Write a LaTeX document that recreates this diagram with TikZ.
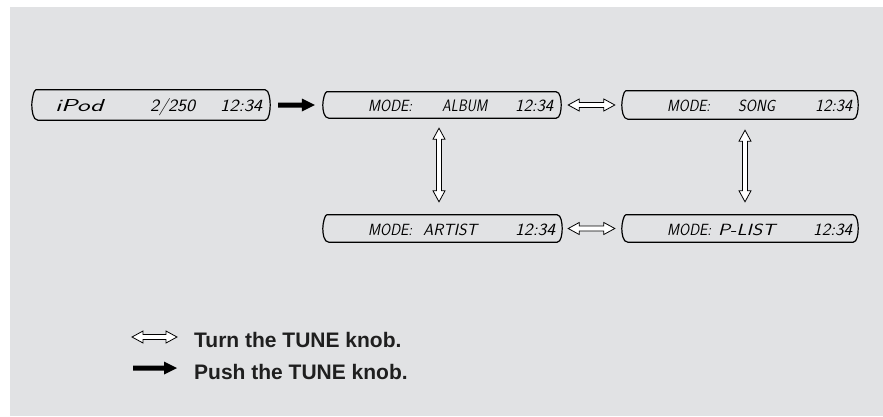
\documentclass[tikz,border=0pt]{standalone}
\usepackage{fontspec}
\usepackage{graphicx}
\newfontfamily\legendfont{Liberation Sans}
\usetikzlibrary{calc}
\definecolor{bgc}{RGB}{225,226,228}
\newcommand\lcdfont{\sffamily\slshape\fontsize{16}{16}\selectfont}
\newcommand\lcdtxt[3]{\resizebox{#1pt}{#2pt}{\lcdfont #3}}
\newcommand\lcdframe[1]{%
  \draw[lcdline] ([xshift=4pt]#1.north west) -- ([xshift=-5pt]#1.north east)
    .. controls ([xshift=-1pt]#1.north east) and ([yshift=5pt]#1.east) .. (#1.east)
    .. controls ([yshift=-5pt]#1.east) and ([xshift=-1pt]#1.south east) .. ([xshift=-5pt]#1.south east)
    -- ([xshift=6pt]#1.south west)
    .. controls ([xshift=1pt]#1.south west) and ([yshift=-5pt]#1.west) .. (#1.west)
    .. controls ([yshift=5pt]#1.west) and ([xshift=2pt]#1.north west) .. cycle;}
\newcommand\hollowH[2]{%
  \draw[hollow] let \p1=(#1), \p2=(#2) in
    (\x1,\y1) -- ({\x1+11pt},{\y1+6pt}) -- ({\x1+11pt},{\y1+2.5pt})
    -- ({\x2-11pt},{\y1+2.5pt}) -- ({\x2-11pt},{\y1+6pt}) -- (\x2,\y1)
    -- ({\x2-11pt},{\y1-6pt}) -- ({\x2-11pt},{\y1-2.5pt})
    -- ({\x1+11pt},{\y1-2.5pt}) -- ({\x1+11pt},{\y1-6pt}) -- cycle;}
\newcommand\hollowV[2]{%
  \draw[hollow] let \p1=(#1), \p2=(#2) in
    (\x1,\y1) -- ({\x1+6pt},{\y1-11pt}) -- ({\x1+2.5pt},{\y1-11pt})
    -- ({\x1+2.5pt},{\y2+11pt}) -- ({\x1+6pt},{\y2+11pt}) -- (\x1,\y2)
    -- ({\x1-6pt},{\y2+11pt}) -- ({\x1-2.5pt},{\y2+11pt})
    -- ({\x1-2.5pt},{\y1-11pt}) -- ({\x1-6pt},{\y1-11pt}) -- cycle;}
\newcommand\solidH[2]{%
  \fill[black] let \p1=(#1), \p2=(#2) in
    (\x1,{\y1+2.5pt}) -- ({\x2-13pt},{\y1+2.5pt}) -- ({\x2-13pt},{\y1+6.5pt})
    -- (\x2,\y1) -- ({\x2-13pt},{\y1-6.5pt}) -- ({\x2-13pt},{\y1-2.5pt})
    -- (\x1,{\y1-2.5pt}) -- cycle;}
\tikzset{
  lcdbox/.style={inner sep=0pt, draw=none},
  lcdline/.style={draw=black, line width=1.2pt, line join=round},
  lcdtext/.style={anchor=base west, inner sep=0pt},
  hollow/.style={draw=black, fill=white, line width=0.8pt, line join=miter},
  legendtext/.style={anchor=base west, inner sep=0pt, font=\legendfont\bfseries\fontsize{21}{24}\selectfont, text=black!88}
}
\begin{document}
\begin{tikzpicture}[x=1pt,y=1pt]
\useasboundingbox (0,0) rectangle (883,416);
\fill[bgc] (10,0) rectangle (883,409);
% display boxes
\node[lcdbox, minimum width=238pt, minimum height=30pt] (d1) at (151,311) {};
\node[lcdbox, minimum width=238pt, minimum height=26pt] (d2) at (442,311) {};
\node[lcdbox, minimum width=236pt, minimum height=28pt] (d3) at (740,311) {};
\node[lcdbox, minimum width=239pt, minimum height=27pt] (d4) at (442.5,187.5) {};
\node[lcdbox, minimum width=236pt, minimum height=27pt] (d5) at (740,187.5) {};
\lcdframe{d1}
\lcdframe{d2}
\lcdframe{d3}
\lcdframe{d4}
\lcdframe{d5}
% display texts
\node[lcdtext] (t1a) at (55,305) {\lcdtxt{48}{12}{iPod}};
\node[lcdtext] (t1b) at (150,305) {\lcdtxt{45}{13}{2/250}};
\node[lcdtext] (t1c) at (220,305) {\lcdtxt{42}{11.5}{12:34}};
\node[lcdtext] (t2a) at (368,305) {\lcdtxt{44}{11.5}{MODE:}};
\node[lcdtext] (t2b) at (442,305) {\lcdtxt{45}{11.5}{ALBUM}};
\node[lcdtext] (t2c) at (515,305) {\lcdtxt{38}{11.5}{12:34}};
\node[lcdtext] (t3a) at (667,305) {\lcdtxt{43}{11.5}{MODE:}};
\node[lcdtext] (t3b) at (738,305) {\lcdtxt{37}{11.5}{SONG}};
\node[lcdtext] (t3c) at (815,305) {\lcdtxt{37}{11.5}{12:34}};
\node[lcdtext] (t4a) at (368,181) {\lcdtxt{44}{11.5}{MODE:}};
\node[lcdtext] (t4b) at (423,181) {\lcdtxt{54}{11.5}{ARTIST}};
\node[lcdtext] (t4c) at (515,181) {\lcdtxt{40}{11.5}{12:34}};
\node[lcdtext] (t5a) at (667,181) {\lcdtxt{44}{11.5}{MODE:}};
\node[lcdtext] (t5b) at (718,181) {\lcdtxt{57}{11.5}{P-LIST}};
\node[lcdtext] (t5c) at (813,181) {\lcdtxt{39}{11.5}{12:34}};
% connectors
\solidH{[xshift=8pt]d1.east}{[xshift=-8pt]d2.west}
\hollowH{[xshift=7pt]d2.east}{[xshift=-7pt]d3.west}
\hollowH{[xshift=6pt]d4.east}{[xshift=-7pt]d5.west}
\hollowV{[xshift=-3pt,yshift=-10pt]d2.south}{[xshift=-3.5pt,yshift=13pt]d4.north}
\hollowV{[xshift=5pt,yshift=-11pt]d3.south}{[xshift=5pt,yshift=13pt]d5.north}
% legend
\coordinate (l1a) at (132,79);
\coordinate (l1b) at (177,79);
\coordinate (l2a) at (133,48);
\coordinate (l2b) at (177,48);
\hollowH{l1a}{l1b}
\solidH{l2a}{l2b}
\node[legendtext] (lt1) at (194,69) {Turn the TUNE knob.};
\node[legendtext] (lt2) at (194,37) {Push the TUNE knob.};
\end{tikzpicture}
\end{document}
